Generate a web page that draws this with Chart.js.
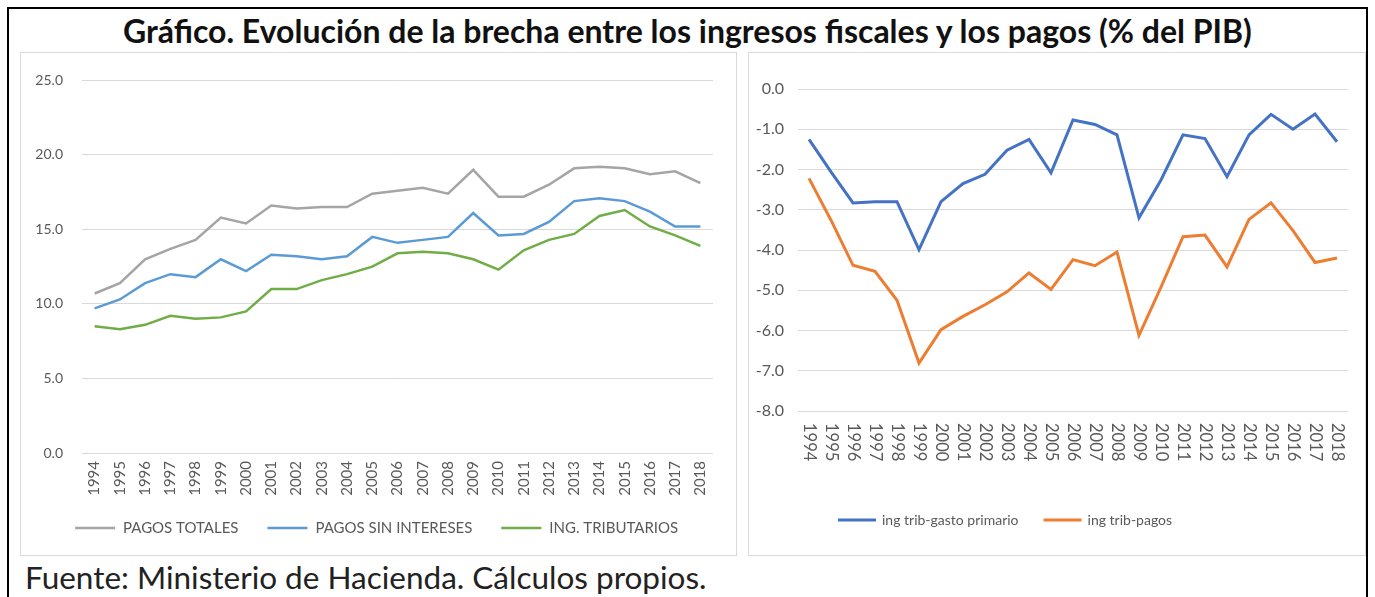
<!DOCTYPE html>
<html>
<head>
<meta charset="utf-8">
<script src="https://cdn.jsdelivr.net/npm/chart.js@4/dist/chart.umd.min.js"></script>
<style>
  body { margin: 0; width: 1375px; height: 597px; overflow: hidden; background: #fff; position: relative; font-family: Lato, sans-serif; }
  #frame { position: absolute; left: 7px; top: 7px; width: 1357px; height: 640px; border: 2px solid #000; }
  #title { position: absolute; left: 0; top: 15px; width: 1375px; text-align: center; font-weight: bold; font-size: 32px; line-height: 32px; color: #111; }
  .panel { position: absolute; top: 52px; height: 504px; border: 1px solid #d9d9d9; box-sizing: border-box; }
  .box { position: absolute; top: 53px; height: 502px; }
  #fuente { position: absolute; left: 25px; top: 560px; font-size: 31.5px; line-height: 34px; color: #222; }
</style>
</head>
<body>
<div id="frame"></div>
<div id="title">Gráfico. Evolución de la brecha entre los ingresos fiscales y los pagos (% del PIB)</div>
<div class="panel" style="left:20px;width:717px"></div>
<div class="panel" style="left:748px;width:618px"></div>
<div class="box" style="left:21px;width:715px"><canvas id="leftChart"></canvas></div>
<div class="box" style="left:749px;width:616px"><canvas id="rightChart"></canvas></div>
<div id="fuente">Fuente: Ministerio de Hacienda. Cálculos propios.</div>

<script>
// datos
var years = ["1994", "1995", "1996", "1997", "1998", "1999", "2000", "2001", "2002", "2003", "2004", "2005", "2006",
  "2007", "2008", "2009", "2010", "2011", "2012", "2013", "2014", "2015", "2016", "2017", "2018"];

var pagosTotales = [10.7, 11.4, 13.0, 13.7, 14.3, 15.8, 15.4, 16.6, 16.4, 16.5, 16.5, 17.4, 17.6,
  17.8, 17.4, 19.0, 17.2, 17.2, 18.0, 19.1, 19.2, 19.1, 18.7, 18.9, 18.1];
var pagosSinIntereses = [9.7, 10.3, 11.4, 12.0, 11.8, 13.0, 12.2, 13.3, 13.2, 13.0, 13.2, 14.5, 14.1,
  14.3, 14.5, 16.1, 14.6, 14.7, 15.5, 16.9, 17.1, 16.9, 16.2, 15.2, 15.2];
var ingTributarios = [8.5, 8.3, 8.6, 9.2, 9.0, 9.1, 9.5, 11.0, 11.0, 11.6, 12.0, 12.5, 13.4,
  13.5, 13.4, 13.0, 12.3, 13.6, 14.3, 14.7, 15.9, 16.3, 15.2, 14.6, 13.9];

var brechaGastoPrimario = [-1.25, -2.06, -2.83, -2.80, -2.80, -3.99, -2.80, -2.35, -2.12, -1.52, -1.25, -2.08, -0.77,
  -0.88, -1.14, -3.20, -2.26, -1.14, -1.23, -2.18, -1.14, -0.63, -1.00, -0.62, -1.31];
var brechaPagos = [-2.22, -3.26, -4.38, -4.53, -5.25, -6.81, -5.98, -5.65, -5.36, -5.04, -4.57, -4.98, -4.24,
  -4.39, -4.05, -6.12, -4.92, -3.67, -3.63, -4.42, -3.24, -2.83, -3.52, -4.31, -4.20];

var labelColor = "#595959";
var gridColor = "#d9d9d9";

// leyenda con linea, estilo excel
var lineLegend = {
  id: "lineLegend",
  afterDraw: function (chart, args, opts) {
    var ctx = chart.ctx;
    var x = opts.x;
    ctx.save();
    ctx.font = opts.font;
    ctx.textBaseline = "middle";
    chart.data.datasets.forEach(function (ds) {
      ctx.strokeStyle = ds.borderColor;
      ctx.lineWidth = opts.lineWidth;
      ctx.beginPath();
      ctx.moveTo(x, opts.y);
      ctx.lineTo(x + opts.lineLen, opts.y);
      ctx.stroke();
      x += opts.lineLen + opts.textGap;
      ctx.fillStyle = labelColor;
      ctx.fillText(ds.label, x, opts.y);
      x += ctx.measureText(ds.label).width + opts.itemGap;
    });
    ctx.restore();
  }
};

// etiquetas del eje x giradas hacia abajo (grafico derecho)
var downTicks = {
  id: "downTicks",
  afterDraw: function (chart, args, opts) {
    var ctx = chart.ctx;
    var scale = chart.scales.x;
    ctx.save();
    ctx.font = opts.font;
    ctx.fillStyle = labelColor;
    ctx.textAlign = "left";
    ctx.textBaseline = "middle";
    chart.data.labels.forEach(function (lbl, i) {
      ctx.save();
      ctx.translate(scale.getPixelForTick(i), scale.top + opts.pad);
      ctx.rotate(Math.PI / 2);
      ctx.fillText(lbl, 0, 0);
      ctx.restore();
    });
    ctx.restore();
  }
};

var left = document.getElementById("leftChart").getContext("2d");

var leftChart = new Chart(left, {
  type: "line",
  data: {
    labels: years,
    datasets: [
      { label: "PAGOS TOTALES", data: pagosTotales, borderColor: "#a5a5a5", borderWidth: 2.5 },
      { label: "PAGOS SIN INTERESES", data: pagosSinIntereses, borderColor: "#5b9bd5", borderWidth: 2.5 },
      { label: "ING. TRIBUTARIOS", data: ingTributarios, borderColor: "#70ad47", borderWidth: 2.5 }
    ]
  },
  plugins: [lineLegend],
  options: {
    responsive: true,
    maintainAspectRatio: false,
    animation: false,
    elements: { point: { radius: 0 }, line: { tension: 0 } },
    layout: { padding: { top: 20, right: 23, bottom: 0, left: 0 } },
    plugins: {
      legend: { display: false },
      tooltip: { enabled: false },
      lineLegend: { x: 54, y: 475, lineLen: 40, textGap: 8, itemGap: 29, lineWidth: 2.5, font: "15px Lato" }
    },
    scales: {
      x: {
        offset: true,
        grid: { display: false, drawTicks: false },
        border: { display: false },
        ticks: { color: labelColor, font: { family: "Lato", size: 15 }, minRotation: 90, maxRotation: 90, autoSkip: false, padding: 8 },
        afterFit: function (scale) { scale.height = 102; }
      },
      y: {
        min: 0,
        max: 25,
        grid: { color: gridColor, drawTicks: false },
        border: { display: false },
        ticks: {
          stepSize: 5,
          color: labelColor,
          font: { family: "Lato", size: 14 },
          padding: 19,
          callback: function (v) { return v.toFixed(1); }
        },
        afterFit: function (scale) { scale.width = 61; }
      }
    }
  }
});

var right = document.getElementById("rightChart").getContext("2d");

var rightChart = new Chart(right, {
  type: "line",
  data: {
    labels: years,
    datasets: [
      { label: "ing trib-gasto primario", data: brechaGastoPrimario, borderColor: "#4472c4", borderWidth: 3 },
      { label: "ing trib-pagos", data: brechaPagos, borderColor: "#ed7d31", borderWidth: 3 }
    ]
  },
  plugins: [lineLegend, downTicks],
  options: {
    responsive: true,
    maintainAspectRatio: false,
    animation: false,
    elements: { point: { radius: 0 }, line: { tension: 0 } },
    layout: { padding: { top: 36, right: 17, bottom: 0, left: 0 } },
    plugins: {
      legend: { display: false },
      tooltip: { enabled: false },
      lineLegend: { x: 89, y: 467, lineLen: 38, textGap: 6, itemGap: 25, lineWidth: 3, font: "14px Lato" },
      downTicks: { pad: 12, font: "16.5px Lato" }
    },
    scales: {
      x: {
        offset: true,
        grid: { display: false, drawTicks: false },
        border: { display: false },
        ticks: { display: false },
        afterFit: function (scale) { scale.height = 144; }
      },
      y: {
        min: -8,
        max: 0,
        grid: { color: gridColor, drawTicks: false },
        border: { display: false },
        ticks: {
          stepSize: 1,
          color: labelColor,
          font: { family: "Lato", size: 16 },
          padding: 14,
          callback: function (v) { return v.toFixed(1); }
        },
        afterFit: function (scale) { scale.width = 49; }
      }
    }
  }
});
</script>
</body>
</html>
